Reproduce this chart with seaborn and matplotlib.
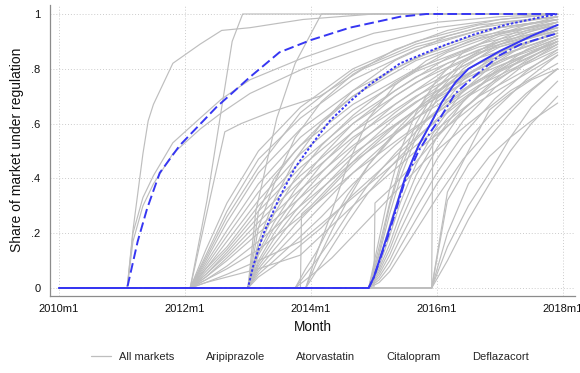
import numpy as np
import pandas as pd
import matplotlib
matplotlib.use("Agg")
import matplotlib.pyplot as plt
import seaborn as sns
from matplotlib.lines import Line2D

# ---------------- data (months since 2010m1, share under regulation) ----------------
x_ticks = [0, 24, 48, 72, 96]
x_tick_labels = ["2010m1", "2012m1", "2014m1", "2016m1", "2018m1"]
y_ticks = [0, 0.2, 0.4, 0.6, 0.8, 1.0]
y_tick_labels = ["0", ".2", ".4", ".6", ".8", "1"]

legend_labels = ["All markets", "Aripiprazole", "Atorvastatin", "Citalopram", "Deflazacort"]

# Gray market lines, grouped by the month regulation started
grpA_months = [13, 14.1, 16, 17, 18, 21.7, 26.9, 31, 36.4, 46.5, 60, 72, 84, 95]
grpA_values = [
    [0, 0.21, 0.49, 0.61, 0.67, 0.82, 0.89, 0.94, 0.95, 0.98, 1.0, 1.0, 1.0, 1.0],
    [0, 0.20, 0.33, 0.37, 0.41, 0.53, 0.62, 0.69, 0.76, 0.84, 0.93, 0.97, 0.99, 1.0],
    [0, 0.17, 0.30, 0.34, 0.38, 0.49, 0.58, 0.64, 0.71, 0.80, 0.89, 0.95, 0.98, 1.0],
]

grpB_months = [25, 28, 32, 38, 46, 56, 68, 80, 95]
grpB_values = [
    [0, 0.12, 0.28, 0.47, 0.62, 0.76, 0.87, 0.94, 0.98],
    [0, 0.10, 0.24, 0.42, 0.58, 0.72, 0.84, 0.92, 0.97],
    [0, 0.09, 0.21, 0.38, 0.55, 0.70, 0.83, 0.91, 0.97],
    [0, 0.08, 0.19, 0.35, 0.52, 0.67, 0.80, 0.89, 0.96],
    [0, 0.07, 0.17, 0.32, 0.49, 0.65, 0.79, 0.88, 0.95],
    [0, 0.07, 0.15, 0.30, 0.46, 0.62, 0.77, 0.87, 0.94],
    [0, 0.06, 0.14, 0.28, 0.44, 0.60, 0.75, 0.86, 0.94],
    [0, 0.05, 0.13, 0.26, 0.41, 0.57, 0.72, 0.84, 0.93],
    [0, 0.05, 0.12, 0.24, 0.39, 0.55, 0.70, 0.82, 0.92],
    [0, 0.04, 0.11, 0.22, 0.36, 0.52, 0.68, 0.80, 0.91],
    [0, 0.04, 0.10, 0.20, 0.33, 0.49, 0.65, 0.78, 0.90],
    [0, 0.03, 0.08, 0.17, 0.30, 0.46, 0.62, 0.76, 0.89],
    [0, 0.03, 0.07, 0.14, 0.26, 0.42, 0.59, 0.74, 0.88],
    [0, 0.02, 0.05, 0.10, 0.17, 0.33, 0.52, 0.70, 0.86],
    [0, 0.02, 0.04, 0.07, 0.12, 0.30, 0.50, 0.68, 0.85],
    [0, 0.14, 0.31, 0.50, 0.66, 0.80, 0.90, 0.96, 0.99],
    [0, 0.11, 0.26, 0.44, 0.64, 0.79, 0.89, 0.95, 0.99],
]

grpC_months = [36, 38, 41, 45, 50, 56, 64, 74, 84, 95]
grpC_values = [
    [0, 0.22, 0.38, 0.55, 0.68, 0.78, 0.87, 0.94, 0.98, 1.0],
    [0, 0.15, 0.27, 0.40, 0.52, 0.63, 0.75, 0.86, 0.93, 0.97],
    [0, 0.13, 0.24, 0.36, 0.48, 0.60, 0.72, 0.84, 0.92, 0.96],
    [0, 0.12, 0.22, 0.33, 0.45, 0.57, 0.70, 0.82, 0.90, 0.95],
    [0, 0.10, 0.20, 0.31, 0.42, 0.54, 0.67, 0.80, 0.89, 0.95],
    [0, 0.09, 0.18, 0.28, 0.39, 0.51, 0.64, 0.78, 0.88, 0.94],
    [0, 0.08, 0.16, 0.26, 0.36, 0.48, 0.62, 0.76, 0.86, 0.93],
    [0, 0.07, 0.14, 0.23, 0.33, 0.45, 0.59, 0.74, 0.85, 0.92],
    [0, 0.06, 0.12, 0.20, 0.30, 0.42, 0.56, 0.71, 0.83, 0.91],
    [0, 0.05, 0.10, 0.17, 0.26, 0.38, 0.52, 0.68, 0.81, 0.90],
    [0, 0.04, 0.08, 0.14, 0.22, 0.34, 0.48, 0.65, 0.79, 0.89],
    [0, 0.28, 0.40, 0.50, 0.60, 0.70, 0.80, 0.89, 0.95, 0.98],
    [0, 0.17, 0.32, 0.47, 0.60, 0.72, 0.83, 0.92, 0.97, 0.99],
]

grpD_months = [45, 47, 49, 52, 55, 59, 64, 70, 78, 86, 95]
grpD_values = [
    [0, 0, 0.12, 0.28, 0.45, 0.62, 0.74, 0.83, 0.90, 0.95, 0.98],
    [0, 0.07, 0.13, 0.24, 0.34, 0.45, 0.56, 0.67, 0.78, 0.86, 0.92],
    [0, 0.05, 0.10, 0.18, 0.27, 0.38, 0.49, 0.61, 0.73, 0.82, 0.90],
    [0, 0, 0.06, 0.15, 0.24, 0.35, 0.46, 0.58, 0.70, 0.79, 0.87],
    [0, 0, 0.09, 0.21, 0.32, 0.45, 0.57, 0.69, 0.80, 0.88, 0.93],
    [0, 0.03, 0.06, 0.11, 0.17, 0.25, 0.35, 0.47, 0.60, 0.72, 0.82],
]

grpE_months = [59, 61, 63, 65, 68, 72, 77, 83, 89, 95]
grpE_values = [
    [0, 0.15, 0.31, 0.45, 0.60, 0.73, 0.83, 0.90, 0.95, 0.98],
    [0, 0.12, 0.27, 0.40, 0.55, 0.69, 0.80, 0.88, 0.93, 0.97],
    [0, 0.10, 0.23, 0.35, 0.50, 0.64, 0.76, 0.85, 0.91, 0.95],
    [0, 0.08, 0.19, 0.31, 0.45, 0.59, 0.72, 0.82, 0.89, 0.94],
    [0, 0.07, 0.16, 0.27, 0.41, 0.55, 0.68, 0.79, 0.87, 0.92],
    [0, 0.06, 0.14, 0.24, 0.37, 0.51, 0.65, 0.76, 0.85, 0.91],
    [0, 0.05, 0.12, 0.21, 0.33, 0.47, 0.61, 0.73, 0.82, 0.89],
    [0, 0.04, 0.10, 0.18, 0.29, 0.42, 0.56, 0.69, 0.79, 0.87],
    [0, 0.03, 0.08, 0.15, 0.25, 0.38, 0.52, 0.65, 0.76, 0.85],
    [0, 0.18, 0.36, 0.50, 0.64, 0.76, 0.86, 0.92, 0.96, 0.99],
    [0, 0.13, 0.30, 0.43, 0.57, 0.71, 0.82, 0.89, 0.94, 0.97],
    [0, 0.02, 0.06, 0.12, 0.21, 0.33, 0.47, 0.60, 0.71, 0.80],
]

grpF_months = [71, 74, 78, 82, 86, 90, 95]
grpF_values = [
    [0, 0.32, 0.45, 0.55, 0.64, 0.72, 0.80],
    [0, 0.35, 0.50, 0.65, 0.71, 0.76, 0.80],
    [0, 0.15, 0.30, 0.42, 0.55, 0.66, 0.755],
    [0, 0.10, 0.25, 0.38, 0.50, 0.60, 0.70],
    [0, 0.20, 0.38, 0.48, 0.55, 0.61, 0.675],
]

# Individual gray lines with their own breakpoints
extra_months = [
    [25, 31.6, 34.7, 40, 49.7, 58, 68, 80, 95],
    [25, 28.2, 33, 35, 95],
    [36, 37.5, 41.5, 45, 50, 95],
    [46, 46.2, 48, 52, 57, 63, 70, 78, 86, 95],
    [60, 60.2, 63, 68, 72, 77, 83, 89, 95],
    [71, 71.2, 74, 78, 82, 86, 90, 95],
]
extra_values = [
    [0, 0.57, 0.60, 0.64, 0.70, 0.80, 0.88, 0.94, 0.98],
    [0, 0.32, 0.90, 1.0, 1.0],
    [0, 0.28, 0.62, 0.82, 1.0, 1.0],
    [0, 0.27, 0.30, 0.38, 0.48, 0.58, 0.68, 0.77, 0.84, 0.90],
    [0, 0.31, 0.36, 0.46, 0.55, 0.65, 0.75, 0.83, 0.90],
    [0, 0.55, 0.62, 0.70, 0.77, 0.82, 0.86, 0.90],
]

# Highlighted drugs
arip_months = [13, 15, 16.8, 19.2, 23, 27, 30, 36.4, 42, 48, 55.4, 65, 70, 95]
arip_values = [0, 0.17, 0.29, 0.42, 0.52, 0.60, 0.66, 0.77, 0.86, 0.905, 0.95, 0.99, 1.0, 1.0]
atorv_months = [36, 37, 39, 42, 45, 48.4, 51.6, 55.4, 59, 65, 72.6, 79, 85, 91, 95]
atorv_values = [0, 0.08, 0.20, 0.33, 0.44, 0.53, 0.61, 0.68, 0.74, 0.82, 0.88, 0.925, 0.96, 0.985, 1.0]
cital_months = [59, 60, 62.7, 65.9, 68.5, 70.8, 73, 75.5, 78, 84, 90, 95]
cital_values = [0, 0.04, 0.20, 0.40, 0.52, 0.60, 0.68, 0.75, 0.80, 0.865, 0.92, 0.96]
defl_months = [59, 60, 62.7, 65.9, 68.5, 70.8, 72.6, 75.5, 79, 84, 88, 95]
defl_values = [0, 0.04, 0.19, 0.39, 0.50, 0.57, 0.62, 0.71, 0.77, 0.85, 0.89, 0.93]

# ---------------- build tables ----------------
rows = []
def add_line(name, months, values):
    for m, v in zip([0] + list(months), [0] + list(values)):
        rows.append({"market": name, "month": m, "share": v})

for tag, months, values in [("A", grpA_months, grpA_values), ("B", grpB_months, grpB_values),
                            ("C", grpC_months, grpC_values), ("D", grpD_months, grpD_values),
                            ("E", grpE_months, grpE_values), ("F", grpF_months, grpF_values)]:
    for i, vals in enumerate(values):
        add_line(f"{tag}{i}", months, vals)
for i, (months, vals) in enumerate(zip(extra_months, extra_values)):
    add_line(f"X{i}", months, vals)
gray_df = pd.DataFrame(rows)

drug_data = {
    "Aripiprazole": (arip_months, arip_values),
    "Atorvastatin": (atorv_months, atorv_values),
    "Citalopram": (cital_months, cital_values),
    "Deflazacort": (defl_months, defl_values),
}
brows = []
for drug, (months, vals) in drug_data.items():
    for m, v in zip([0] + months, [0] + vals):
        brows.append({"drug": drug, "month": m, "share": v})
blue_df = pd.DataFrame(brows)

# ---------------- style ----------------
sns.set_style("white")
plt.rcParams["font.family"] = ["Liberation Sans", "DejaVu Sans"]

GRAY = "#BEBEBE"
BLUE = "#3636F2"
AXC = "#8C8C8C"

fig = plt.figure(figsize=(5.8, 3.73), dpi=100)
ax = fig.add_axes([50 / 580, 77 / 373, 525 / 580, 291 / 373])

sns.lineplot(data=gray_df, x="month", y="share", units="market", estimator=None,
             color=GRAY, lw=0.85, ax=ax, legend=False)

styles = {
    "Aripiprazole": (0, (5.0, 2.2)),
    "Atorvastatin": (0, (1.3, 1.0)),
    "Citalopram": "-",
    "Deflazacort": (0, (4.6, 1.6, 1.0, 1.6)),
}
for drug in ["Aripiprazole", "Atorvastatin", "Deflazacort", "Citalopram"]:
    sub = blue_df[blue_df["drug"] == drug]
    n_before = len(ax.lines)
    sns.lineplot(data=sub, x="month", y="share", color=BLUE, lw=1.4, ax=ax,
                 legend=False, estimator=None)
    for ln in ax.lines[n_before:]:
        ln.set_linestyle(styles[drug])

ax.set_xlim(-1.7, 98.3)
ax.set_ylim(-0.0292, 1.0328)
ax.set_xticks(x_ticks)
ax.set_xticklabels(x_tick_labels)
ax.set_yticks(y_ticks)
ax.set_yticklabels(y_tick_labels)

ax.grid(True, color="#CCCCCC", linestyle=(0, (1, 2)), lw=0.7)
ax.set_axisbelow(True)
for s in ["top", "right"]:
    ax.spines[s].set_visible(False)
for s in ["left", "bottom"]:
    ax.spines[s].set_color(AXC)
    ax.spines[s].set_linewidth(0.9)
ax.tick_params(axis="both", direction="out", length=3.5, width=0.8, color=AXC,
               labelsize=8, labelcolor="#111111")
ax.tick_params(axis="y", pad=3.5)
ax.tick_params(axis="x", pad=2)

ax.set_xlabel("Month", fontsize=9.8, color="#111111", va="center")
ax.xaxis.set_label_coords(0.5, -31 / 291)
ax.set_ylabel("Share of market under regulation", fontsize=10, color="#111111", va="center")
ax.yaxis.set_label_coords(-33 / 525, 0.502)

handles = [Line2D([], [], color=GRAY, lw=0.9)] + [Line2D([], [], color="none", lw=1.4) for _ in range(4)]
fig.legend(handles, legend_labels, loc="center", bbox_to_anchor=(309.5 / 580, 16 / 373),
           ncol=5, frameon=False, fontsize=8, handlelength=1.8, handletextpad=0.8,
           columnspacing=0.2)

fig.savefig("out.png", dpi=100)
